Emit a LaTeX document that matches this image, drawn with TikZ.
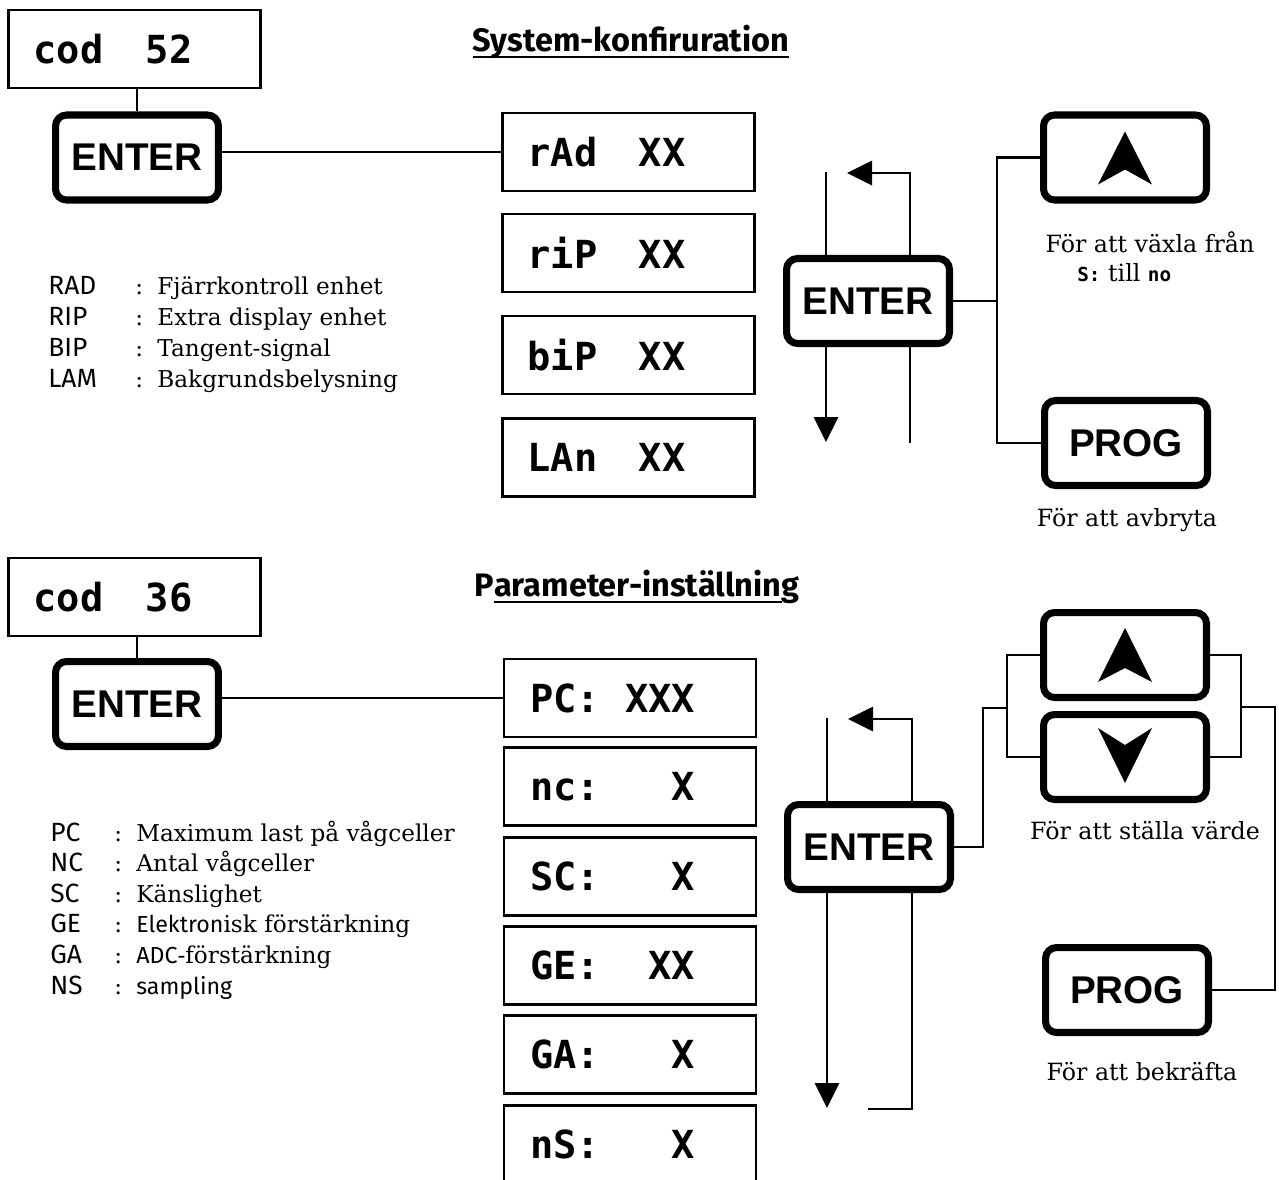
\documentclass[tikz,border=0pt]{standalone}
\usepackage{fontspec}
\setmainfont{DejaVu Serif}
\newfontfamily\lcdfont{DejaVu Sans Mono}
\newfontfamily\keyfont{Liberation Sans}
\newfontfamily\comicfont{Fira Sans}
\usetikzlibrary{arrows.meta}
% display line: label left, value flush right
\newcommand\lcdline[3]{\makebox[#1][l]{#2\hfill #3}}
\newcommand\thickul[1]{\setbox0\hbox{#1}\rlap{\rule[-3.8pt]{\wd0}{1.5pt}}\box0}

\begin{document}
\begin{tikzpicture}[x=0.02cm, y=-0.02cm,
    lcd/.style={draw, line width=1.3pt, minimum height=1.56cm, text width=4.04cm,
        inner xsep=0.5cm, align=left, font=\lcdfont\bfseries\fontsize{22}{22}\selectfont},
    lcdsmall/.style={lcd, text width=4.0cm, inner xsep=0.52cm},
    key/.style={draw, line width=4pt, rounded corners=0.22cm, minimum width=3.26cm,
        minimum height=1.7cm, font=\keyfont\bfseries\fontsize{22}{22}\selectfont},
    wire/.style={line width=1.6pt},
    flow/.style={-{Triangle[length=0.5cm,width=0.48cm]}},
    heading/.style={font=\comicfont\bfseries\fontsize{18.5}{18.5}\selectfont},
    legkey/.style={anchor=base west, inner sep=0pt, font=\comicfont\fontsize{15}{15}\selectfont},
    legtxt/.style={anchor=base west, inner sep=0pt, font=\fontsize{13.2}{13.2}\selectfont},
    note/.style={inner sep=0pt, font=\fontsize{13.5}{13.5}\selectfont}]
\useasboundingbox (0,0) rectangle (1279,1180);
\clip (0,0) rectangle (1279,1180);

% System-konfiguration
\node[heading] (head1) at (631,42) {\thickul{System-konfiruration}};
\node[lcd] (cod1) at (134.5,49) {\lcdline{3.18cm}{cod}{52}};
\node[key] (ent1) at (137,157.5) {ENTER};
\draw[wire] (ent1.north) -- (ent1.north |- cod1.south);

\node[lcd] (rad) at (628.5,152) {\lcdline{3.16cm}{rAd}{XX}};
\node[lcd] (rip) at (628.5,253) {\lcdline{3.16cm}{riP}{XX}};
\node[lcd] (bip) at (628.5,355) {\lcdline{3.16cm}{biP}{XX}};
\node[lcd] (lam) at (628.5,457.5) {\lcdline{3.16cm}{LAn}{XX}};
\draw[wire] (rad.west) -- (rad.west -| ent1.east);

\foreach \abbr/\desc [count=\i] in {RAD/Fjärrkontroll enhet, RIP/Extra display enhet,
        BIP/Tangent-signal, LAM/Bakgrundsbelysning}{
    \node[legkey] (abbrA\i) at (48,{263.5+31*\i}) {\abbr};
    \node[legtxt] (descA\i) at (135,{263.5+31*\i}) {\makebox[0.44cm][l]{:}\desc};
}

\node[key] (ent2) at (868,301) {ENTER};
\coordinate (in1) at (826,172);
\coordinate (out1) at (826,442);
\coordinate (ret1) at (910,173);
\coordinate (back1) at (847,173);
\coordinate (low1) at (910,443);
\draw[wire] (in1) -- (in1 |- ent2.north);
\draw[wire,flow] (in1 |- ent2.south) -- (out1);
\draw[wire,flow] (ret1 |- ent2.north) -- (ret1) -- (back1);
\draw[wire] (ret1 |- ent2.south) -- (low1);

\node[key] (up1) at (1125,157.5) {};
\node[key] (prog1) at (1126,443) {PROG};
\fill (up1) ++(0,-26) -- ++(-27,53) -- ++(27,-15) -- ++(27,15) -- cycle;
\coordinate (j1) at (997,301);
\draw[wire] (ent2.east) -- (j1);
\draw[wire] (up1.west) -| (j1) |- (prog1.west);
\node[note] (txt1) at (1150,242) {För att växla från};
\node[note, anchor=base west] (txt2) at (1077,281)
    {{\lcdfont\bfseries\fontsize{11}{11}\selectfont S:} till {\lcdfont\bfseries\fontsize{11}{11}\selectfont no}};
\node[note] (txt3) at (1127,520) {För att avbryta};

% Parameter-installning
\node[heading] (head2) at (637,587) {P\thickul{arameter-inställnin}g};
\node[lcd] (cod2) at (134.5,597) {\lcdline{3.18cm}{cod}{36}};
\node[key] (ent3) at (137,704) {ENTER};
\draw[wire] (ent3.north) -- (ent3.north |- cod2.south);

\node[lcdsmall] (pc) at (630,698) {\lcdline{3.3cm}{PC:}{XXX}};
\node[lcdsmall] (nc) at (630,786.5) {\lcdline{3.3cm}{nc:}{X}};
\node[lcdsmall] (sc) at (630,876.5) {\lcdline{3.3cm}{SC:}{X}};
\node[lcdsmall] (ge) at (630,965.5) {\lcdline{3.3cm}{GE:}{XX}};
\node[lcdsmall] (ga) at (630,1054.5) {\lcdline{3.3cm}{GA:}{X}};
\node[lcdsmall] (ns) at (630,1144.5) {\lcdline{3.3cm}{nS:}{X}};
\draw[wire] (pc.west) -- (pc.west -| ent3.east);

\foreach \abbr/\desc [count=\i] in {PC/Maximum last på vågceller, NC/Antal vågceller,
        SC/Känslighet, GE/{\comicfont Elektron}isk förstärkning,
        GA/{\comicfont ADC}-förstärkning, NS/{\comicfont sampling}}{
    \node[legkey] (abbrB\i) at (50,{810.4+30.6*\i}) {\abbr};
    \node[legtxt] (descB\i) at (114,{810.4+30.6*\i}) {\makebox[0.44cm][l]{:}\desc};
}

\node[key] (ent4) at (869,847) {ENTER};
\coordinate (in2) at (827,718);
\coordinate (out2) at (827,1108);
\coordinate (ret2) at (912,719);
\coordinate (back2) at (848,719);
\coordinate (low2) at (912,1109);
\coordinate (end2) at (868,1109);
\draw[wire] (in2) -- (in2 |- ent4.north);
\draw[wire,flow] (in2 |- ent4.south) -- (out2);
\draw[wire,flow] (ret2 |- ent4.north) -- (ret2) -- (back2);
\draw[wire] (ret2 |- ent4.south) -- (low2) -- (end2);

\node[key] (up2) at (1125,655) {};
\node[key] (dn2) at (1125,757) {};
\node[key] (prog2) at (1127,990) {PROG};
\fill (up2) ++(0,-27) -- ++(-27,54) -- ++(27,-14) -- ++(27,14) -- cycle;
\fill (dn2) ++(0,26) -- ++(-27,-55) -- ++(27,17) -- ++(27,-17) -- cycle;
\coordinate (jl) at (983,708);
\coordinate (bl) at (1007,708);
\coordinate (br) at (1241,707);
\coordinate (jr) at (1275,707);
\draw[wire] (ent4.east) -| (jl) -- (bl);
\draw[wire] (up2.west) -| (bl) |- (dn2.west);
\draw[wire] (up2.east) -| (br) |- (dn2.east);
\draw[wire] (br) -- (jr) |- (prog2.east);
\node[note] (txt4) at (1145,831) {För att ställa värde};
\node[note] (txt5) at (1142,1072) {För att bekräfta};
\end{tikzpicture}
\end{document}
